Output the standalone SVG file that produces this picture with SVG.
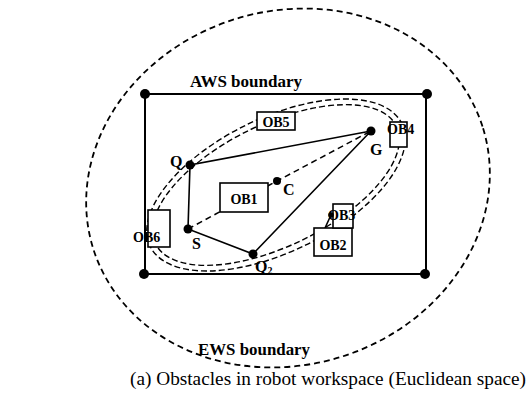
<svg xmlns="http://www.w3.org/2000/svg" width="531" height="394" viewBox="0 0 531 394">
<defs>
<style>
.bg{fill:#fff}
.lbl{font-family:"Liberation Serif","Times New Roman",serif;font-weight:bold;fill:#000}
.ob{fill:#fff;stroke:#000;stroke-width:1.6}
.obt{font-family:"Liberation Serif","Times New Roman",serif;font-weight:bold;font-size:14px;fill:#000}
.solid{stroke:#000;stroke-width:1.6;fill:none}
.dash{stroke:#000;stroke-width:1.5;fill:none;stroke-dasharray:6 4}
.ews{stroke:#000;stroke-width:1.8;fill:none;stroke-dasharray:6 4}
.dbl{stroke:#000;stroke-width:1.4;fill:none;stroke-dasharray:6 3}
.aws{stroke:#000;stroke-width:2;fill:none}
.cap{font-family:"Liberation Serif","Times New Roman",serif;font-size:18px;fill:#000}
</style>
</defs>
<rect class="bg" x="0" y="0" width="531" height="394"/>
<g id="ews-boundary">
<ellipse class="ews" cx="288" cy="188" rx="204" ry="177" transform="rotate(-17 288 188)"/>
<text class="lbl" x="254" y="355" font-size="16" text-anchor="middle" textLength="112" lengthAdjust="spacingAndGlyphs">EWS boundary</text>
</g>
<g id="aws-boundary">
<rect class="aws" x="145" y="94" width="281" height="180"/>
<circle cx="145" cy="94" r="5"/>
<circle cx="427" cy="94" r="5"/>
<circle cx="144" cy="274" r="5"/>
<circle cx="425" cy="274" r="5"/>
<text class="lbl" x="246" y="87" font-size="16" text-anchor="middle" textLength="112" lengthAdjust="spacingAndGlyphs">AWS boundary</text>
</g>
<g id="connectors">
<ellipse class="dbl" cx="276" cy="185" rx="134" ry="61" transform="rotate(-26 276 185)"/>
<ellipse class="dbl" cx="276" cy="185" rx="140" ry="67" transform="rotate(-26 276 185)"/>
<polyline class="solid" points="371,131 190,165 188,229 253,254 371,131"/>
<polyline class="dash" points="188,229 277,181 371,131"/>
<line class="solid" x1="331" y1="215" x2="325" y2="228"/>
</g>
<g id="ob1"><rect class="ob" x="220" y="183" width="48" height="29"/><text class="obt" x="244" y="204" text-anchor="middle">OB1</text></g>
<g id="ob2"><rect class="ob" x="314" y="228" width="38" height="28"/><text class="obt" x="333" y="250" text-anchor="middle">OB2</text></g>
<g id="ob3"><rect class="ob" x="333" y="204" width="20" height="24"/><text class="obt" x="328" y="220">OB3</text><circle cx="331" cy="215" r="2.8"/></g>
<g id="ob4"><rect class="ob" x="390" y="122" width="17" height="25"/><text class="obt" x="387" y="134">OB4</text></g>
<g id="ob5"><rect class="ob" x="257" y="112" width="38" height="18"/><text class="obt" x="276" y="127" text-anchor="middle">OB5</text></g>
<g id="ob6"><rect class="ob" x="148" y="210" width="22" height="37"/><text class="obt" x="133" y="242">OB6</text></g>
<g id="node-S"><circle cx="188" cy="229" r="4.5"/><text class="lbl" x="192" y="249" font-size="16">S</text></g>
<g id="node-Q1"><circle cx="190" cy="165" r="4.5"/><text class="lbl" x="170" y="167" font-size="16">Q</text></g>
<g id="node-Q2"><circle cx="253" cy="254" r="4.5"/><text class="lbl" x="255" y="272" font-size="16">Q<tspan font-size="10" dy="2">2</tspan></text></g>
<g id="node-G"><circle cx="371" cy="131" r="4.5"/><text class="lbl" x="370" y="155" font-size="16">G</text></g>
<g id="node-C"><circle cx="277" cy="181" r="4"/><text class="lbl" x="283" y="195" font-size="16">C</text></g>
<g id="caption"><text class="cap" x="130" y="385" textLength="396" lengthAdjust="spacingAndGlyphs">(a)  Obstacles in robot workspace (Euclidean space)</text></g>
</svg>
